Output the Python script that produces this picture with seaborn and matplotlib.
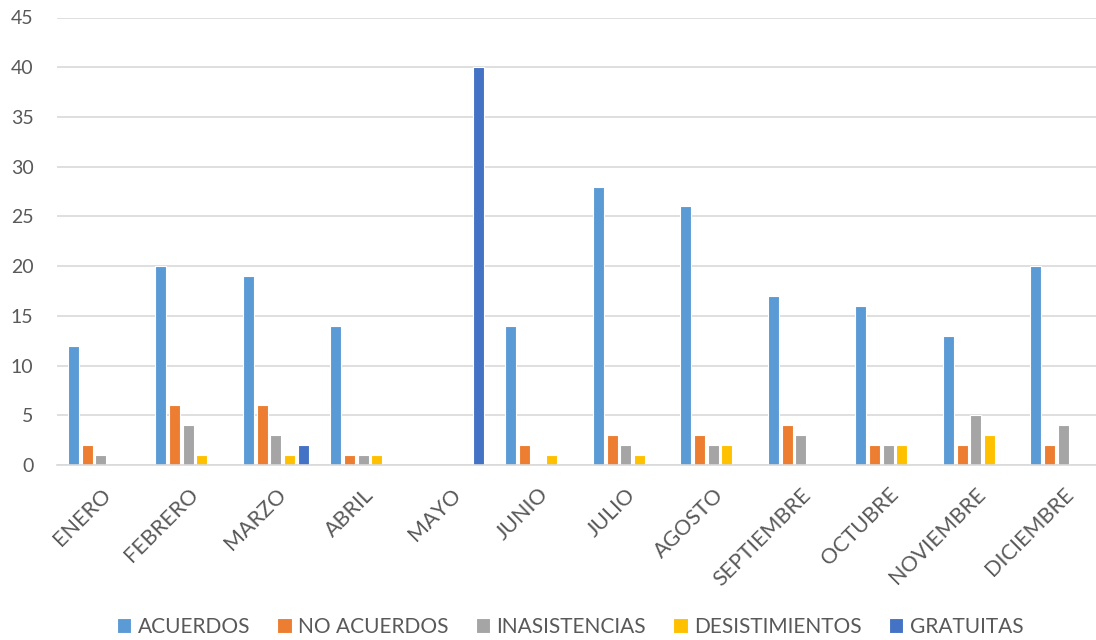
import pandas as pd
import numpy as np
import seaborn as sns
import matplotlib.pyplot as plt

# datos
meses = ['ENERO', 'FEBRERO', 'MARZO', 'ABRIL', 'MAYO', 'JUNIO', 'JULIO',
         'AGOSTO', 'SEPTIEMBRE', 'OCTUBRE', 'NOVIEMBRE', 'DICIEMBRE']
series = ['ACUERDOS', 'NO ACUERDOS', 'INASISTENCIAS', 'DESISTIMIENTOS', 'GRATUITAS']
acuerdos = [12, 20, 19, 14, 0, 14, 28, 26, 17, 16, 13, 20]
no_acuerdos = [2, 6, 6, 1, 0, 2, 3, 3, 4, 2, 2, 2]
inasistencias = [1, 4, 3, 1, 0, 0, 2, 2, 3, 2, 5, 4]
desistimientos = [0, 1, 1, 1, 0, 1, 1, 2, 0, 2, 3, 0]
gratuitas = [0, 0, 2, 0, 40, 0, 0, 0, 0, 0, 0, 0]
colores = ['#5B9BD5', '#ED7D31', '#A5A5A5', '#FFC000', '#4472C4']

df = pd.DataFrame({'mes': meses, 'ACUERDOS': acuerdos, 'NO ACUERDOS': no_acuerdos,
                   'INASISTENCIAS': inasistencias, 'DESISTIMIENTOS': desistimientos,
                   'GRATUITAS': gratuitas})
df = df.melt(id_vars='mes', var_name='serie', value_name='valor')
df = df[df['valor'] > 0]  # sin barras de altura cero

sns.set_style('white')
plt.rcParams['font.family'] = ['Lato', 'DejaVu Sans']

fig = plt.figure(figsize=(10.96, 6.4), dpi=100)
ax = fig.add_axes([57 / 1096, 175 / 640, 1050 / 1096, 447.5 / 640])

sns.barplot(data=df, x='mes', y='valor', hue='serie', order=meses, hue_order=series,
            palette=colores, saturation=1, width=0.78, gap=0.2, edgecolor='white',
            linewidth=0.8, ax=ax, legend=True)

ax.set_ylim(0, 45)
ax.set_yticks(range(0, 46, 5))
ax.set_xlim(-0.5, 11.5)
ax.set_axisbelow(True)
ax.yaxis.grid(True, color='#D9D9D9', linewidth=1.2)
for s in ['top', 'right', 'left']:
    ax.spines[s].set_visible(False)
ax.spines['bottom'].set_color('#D9D9D9')
ax.spines['bottom'].set_linewidth(1.2)
ax.set_xlabel('')
ax.set_ylabel('')
ax.tick_params(axis='y', length=0, pad=17, labelsize=14, labelcolor='#595959')
ax.tick_params(axis='x', length=0, pad=14, labelsize=15.5, labelcolor='#595959')
plt.setp(ax.get_xticklabels(), rotation=45, ha='right', rotation_mode='anchor')

handles, labels = ax.get_legend_handles_labels()
ax.get_legend().remove()
fig.legend(handles, labels, loc='center', bbox_to_anchor=(570 / 1096, 13 / 640),
           ncol=5, frameon=False, fontsize=15, handlelength=0.7, handleheight=0.7,
           handletextpad=0.3, columnspacing=1.3, labelcolor='#595959')

fig.savefig('out.png', dpi=100)
